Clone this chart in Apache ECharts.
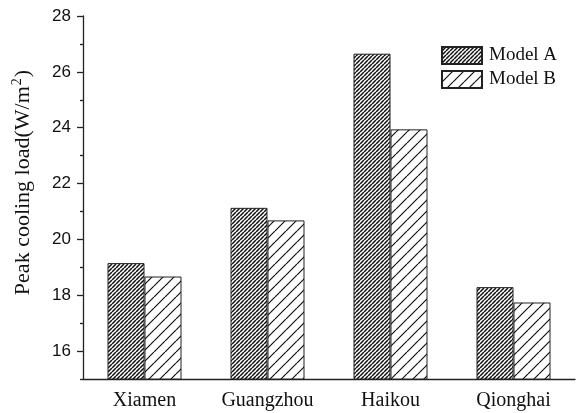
<!DOCTYPE html>
<html>
<head>
<meta charset="utf-8">
<script src="https://cdn.jsdelivr.net/npm/echarts@6/dist/echarts.min.js"></script>
<style>
  html, body { margin: 0; padding: 0; background: #fff; }
  #main { width: 576px; height: 413px; }
</style>
</head>
<body>
<div id="main"></div>
<script>
// data
var cities = ['Xiamen', 'Guangzhou', 'Haikou', 'Qionghai'];
var modelA = [19.15, 21.13, 26.65, 18.29];
var modelB = [18.67, 20.68, 23.94, 17.74];
var majorTicks = [16, 18, 20, 22, 24, 26, 28];
var minorTicks = [15, 17, 19, 21, 23, 25, 27];

// diagonal hatch tile "/"
function hatch(period, lw) {
    var c = document.createElement('canvas');
    c.width = c.height = period;
    var ctx = c.getContext('2d');
    ctx.fillStyle = '#fff';
    ctx.fillRect(0, 0, period, period);
    ctx.strokeStyle = '#111';
    ctx.lineWidth = lw;
    ctx.beginPath();
    for (var k = -1; k <= 1; k++) {
        ctx.moveTo(k * period, period);
        ctx.lineTo(k * period + period, 0);
    }
    ctx.stroke();
    return c;
}

var chart = echarts.init(document.getElementById('main'));
var serif = '"Liberation Serif", "DejaVu Serif", serif';
var sans = '"Liberation Sans", Arial, sans-serif';

chart.setOption({
    animation: false,
    backgroundColor: '#fff',
    grid: { left: 83, right: 1, top: 16, bottom: 34, outerBoundsMode: 'none' },
    legend: {
        left: 436, top: 41,
        orient: 'vertical',
        itemWidth: 40, itemHeight: 17, itemGap: 5,
        icon: 'rect',
        textStyle: { fontFamily: serif, fontSize: 19, color: '#111', padding: [0, 0, 0, 2] },
        data: ['Model A', 'Model B']
    },
    xAxis: {
        type: 'category',
        data: cities,
        axisLine: { lineStyle: { color: '#222', width: 1.3 } },
        axisTick: { alignWithLabel: true, length: 8, lineStyle: { color: '#222', width: 1.3 } },
        axisLabel: { fontFamily: serif, fontSize: 20, color: '#111', margin: 12 }
    },
    yAxis: [{
        type: 'value',
        min: 15, max: 28,
        name: 'Peak cooling load(W/m{sup|2})',
        nameLocation: 'middle',
        nameGap: 47,
        nameTextStyle: {
            fontFamily: serif, fontSize: 22, color: '#111', padding: [0, 0, 0, 30],
            rich: { sup: { fontFamily: serif, fontSize: 14, color: '#111', padding: [0, 1, 12, 1] } }
        },
        splitLine: { show: false },
        axisLine: { show: true, lineStyle: { color: '#222', width: 1.3 } },
        axisTick: { show: true, customValues: majorTicks, length: 6, lineStyle: { color: '#222', width: 1.3 } },
        axisLabel: { customValues: majorTicks, fontFamily: sans, fontSize: 17, color: '#111', margin: 12 }
    }, {
        type: 'value',
        min: 15, max: 28,
        position: 'left',
        splitLine: { show: false },
        axisLine: { show: false },
        axisTick: { show: true, customValues: minorTicks, length: 3, lineStyle: { color: '#222', width: 1.3 } },
        axisLabel: { show: false }
    }],
    series: [{
        name: 'Model A',
        type: 'bar',
        data: modelA,
        barWidth: 37,
        barGap: '0%',
        itemStyle: { color: { image: hatch(4, 1.5), repeat: 'repeat' }, borderColor: '#222', borderWidth: 1 }
    }, {
        name: 'Model B',
        type: 'bar',
        data: modelB,
        barWidth: 37,
        barGap: '0%',
        itemStyle: { color: { image: hatch(11, 1.2), repeat: 'repeat' }, borderColor: '#222', borderWidth: 1 }
    }]
});
</script>
</body>
</html>
